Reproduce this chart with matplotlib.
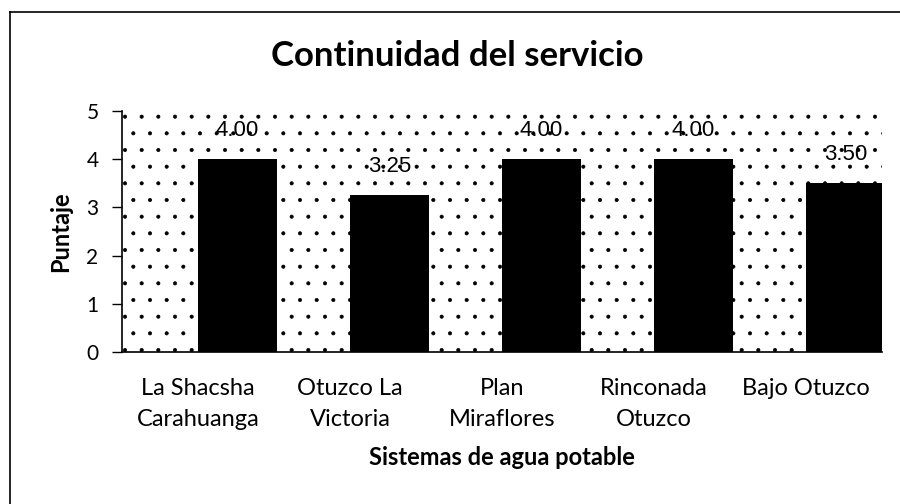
import matplotlib
import numpy as np

matplotlib.use("Agg")

from matplotlib import pyplot as plt  # noqa: E402
from matplotlib.lines import Line2D  # noqa: E402
from matplotlib.patches import Rectangle  # noqa: E402

categories = [
    "La Shacsha\nCarahuanga",
    "Otuzco La\nVictoria",
    "Plan\nMiraflores",
    "Rinconada\nOtuzco",
    "Bajo Otuzco",
]
scores = [4.00, 3.25, 4.00, 4.00, 3.50]
y_ticks = [0, 1, 2, 3, 4, 5]

plt.rcParams["font.family"] = ["Lato", "DejaVu Sans"]
plt.rcParams["hatch.color"] = "black"
plt.rcParams["hatch.linewidth"] = 0.45

fig = plt.figure(figsize=(9, 5.04), dpi=100)
ax = fig.add_axes([0.1356, 0.3016, 0.8444, 0.4782])

# dotted plot area
ax.add_patch(
    Rectangle((0, 0), 1, 1, transform=ax.transAxes, fill=False,
              hatch=".", edgecolor="black", linewidth=0, zorder=0)
)

x = np.arange(len(categories))
ax.bar(x, scores, width=0.52, align="edge", color="black", zorder=2)

for xi, v in zip(x, scores):
    ax.text(xi + 0.26, v + 0.6, f"{v:.2f}", ha="center", va="center",
            fontsize=16, family=["Liberation Sans", "DejaVu Sans"], zorder=3)

ax.set_xlim(-0.5, 4.5)
ax.set_ylim(0, 5)
ax.set_yticks(y_ticks)
ax.set_xticks(x)
ax.set_xticklabels(categories, fontsize=17, linespacing=1.55)
ax.tick_params(axis="x", length=0, pad=19)
ax.tick_params(axis="y", length=7, width=1, labelsize=15, pad=10)

for side in ["top", "right"]:
    ax.spines[side].set_visible(False)
for side in ["left", "bottom"]:
    ax.spines[side].set_linewidth(1.2)

ax.set_ylabel("Puntaje", fontsize=17, fontweight="bold", labelpad=10)
ax.set_xlabel("Sistemas de agua potable", fontsize=17, fontweight="bold",
              labelpad=12)
fig.text(0.508, 0.888, "Continuidad del servicio", ha="center", va="center",
         fontsize=25, fontweight="bold")

# outer chart border (only top and left edges show in the scan)
fig.add_artist(Line2D([0.011, 1.0], [0.976, 0.976], transform=fig.transFigure,
                      color="black", linewidth=1.2))
fig.add_artist(Line2D([0.011, 0.011], [0.0, 0.976], transform=fig.transFigure,
                      color="black", linewidth=1.2))

fig.savefig("out.png", dpi=100)
plt.close(fig)
